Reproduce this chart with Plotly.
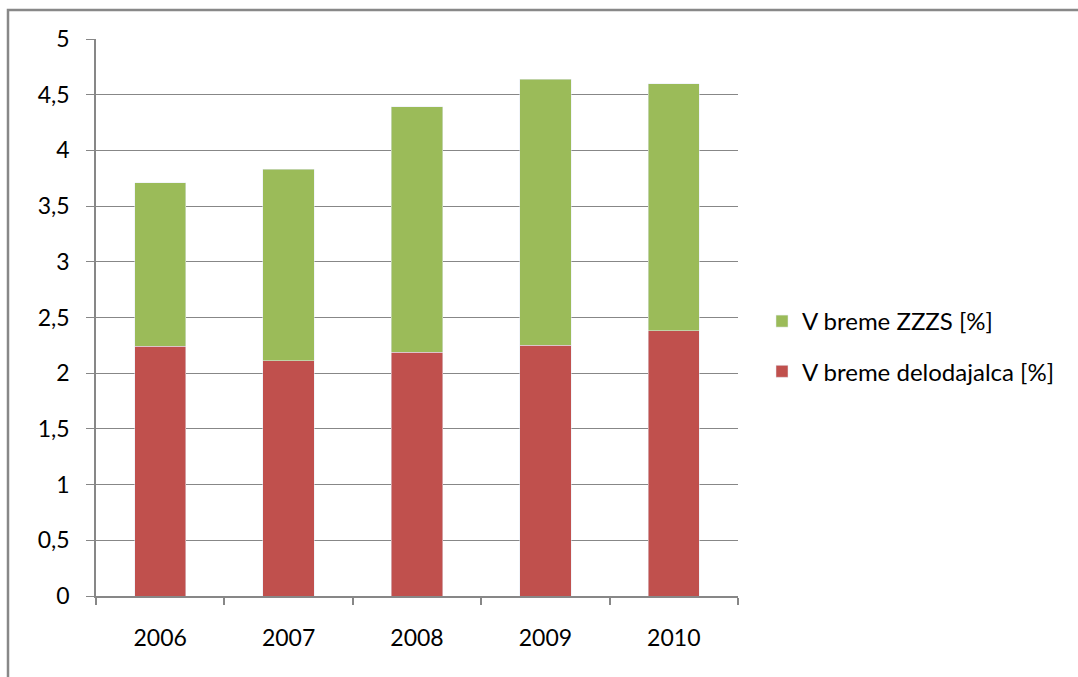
import plotly.graph_objects as go

years = ["2006", "2007", "2008", "2009", "2010"]
delodajalec = [2.24, 2.11, 2.19, 2.25, 2.38]   # V breme delodajalca [%]
zzzs = [1.47, 1.72, 2.20, 2.39, 2.22]          # V breme ZZZS [%]
y_ticks = [0, 0.5, 1, 1.5, 2, 2.5, 3, 3.5, 4, 4.5, 5]

W, H = 1078, 677
L, R, T, B = 96, 738, 39, 596  # plot area in pixels
pw, ph = R - L, B - T

FONT = "Lato, 'Open Sans', sans-serif"
GRID = "#878787"

fig = go.Figure()
fig.add_trace(go.Bar(
    x=years, y=delodajalec, name="V breme delodajalca [%]",
    marker_color="#C0504D", legendgroup="a", legendrank=2,
))
fig.add_trace(go.Bar(
    x=years, y=zzzs, name="V breme ZZZS [%]",
    marker_color="#9BBB59", legendgroup="b", legendrank=1,
))

def px_x(p):
    return (p - L) / pw

def px_y(p):
    return 1 - (p - T) / ph

# outer chart frame (left and top edges)
fig.add_shape(
    type="path", xref="paper", yref="paper",
    path=f"M {px_x(8)} {px_y(700)} L {px_x(8)} {px_y(10)} L {px_x(1100)} {px_y(10)}",
    line=dict(color="#888888", width=2.5),
)

fig.update_layout(
    width=W, height=H,
    margin=dict(l=L, r=W - R, t=T, b=H - B, pad=0),
    barmode="stack", bargap=0.6,
    plot_bgcolor="white", paper_bgcolor="white",
    separators=",.",
    font=dict(family=FONT, size=23, color="#000000"),
    showlegend=True,
    legend=dict(
        x=px_x(762), y=px_y(299), xanchor="left", yanchor="top",
        traceorder="grouped", tracegroupgap=16,
        font=dict(family=FONT, size=24, color="#000000"),
        bgcolor="rgba(0,0,0,0)",
    ),
    xaxis=dict(
        showline=True, linecolor=GRID, linewidth=1.5,
        ticks="outside", ticklen=7, tickcolor=GRID, tickwidth=1.5,
        tickson="boundaries", showgrid=False,
        ticklabelstandoff=21,
        fixedrange=True,
    ),
    yaxis=dict(
        range=[0, 5], tickvals=y_ticks,
        showline=True, linecolor=GRID, linewidth=1.5,
        showgrid=True, gridcolor=GRID, gridwidth=1.3,
        zeroline=False,
        ticks="outside", ticklen=8, tickcolor=GRID, tickwidth=1.3,
        ticklabelstandoff=12,
        fixedrange=True,
    ),
)

fig.write_html("out.html")
